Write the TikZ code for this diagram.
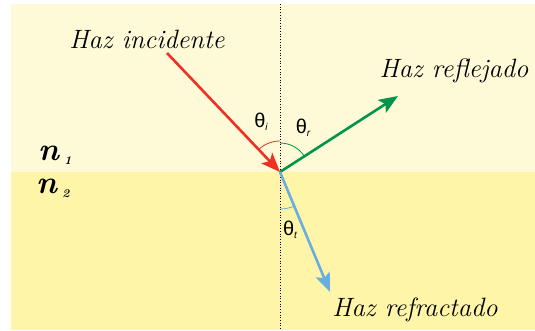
\documentclass[tikz,border=0pt]{standalone}
\usepackage{fontspec}
\newfontfamily\sansf{Liberation Sans}
\usetikzlibrary{arrows.meta}
\definecolor{bgtop}{HTML}{FEF9D6}
\definecolor{bgbot}{HTML}{FFF5A9}
\definecolor{rayred}{HTML}{EE3124}
\definecolor{raygreen}{HTML}{00954A}
\definecolor{rayblue}{HTML}{6AAEE0}
\newcommand{\lowsub}[2]{\raisebox{-0.15em}{\fontsize{#1}{#1}\selectfont\itshape #2}}
\begin{document}
\begin{tikzpicture}[x=1pt,y=1pt,
  ray/.style={line width=2.6pt},
  tip/.style={-{Stealth[length=19pt,width=15pt,inset=4pt]}},
  beamlabel/.style={font=\fontsize{26.5}{30}\selectfont\itshape, inner sep=0pt},
  anglabel/.style={font=\sansf\fontsize{20}{22}\selectfont, inner sep=0pt},
  medlabel/.style={font=\fontsize{32}{34}\selectfont\bfseries\itshape, inner sep=0pt},
  anglearc/.style={line width=0.8pt}]
\useasboundingbox (0,0) rectangle (535,-330);
\fill[white] (0,0) rectangle (535,-330);
\fill[bgtop] (11,-4) rectangle (535,-172);
\fill[bgbot] (11,-172) rectangle (535,-330);
\coordinate (O) at (280,-172);
\coordinate (ntop) at (280,-4);
\coordinate (nbot) at (280,-330);
\draw[dotted, line width=0.7pt] (ntop) -- (nbot);
\coordinate (inc) at (167,-53);
\coordinate (refl) at (398,-96);
\coordinate (refr) at (330,-292);
\draw[ray, rayred, tip] (inc) -- (O);
\draw[ray, raygreen, tip] (O) -- (refl);
\draw[ray, rayblue, tip] (O) -- (refr);
\draw[anglearc, rayred] ([shift={(133.5:31)}]O) arc[start angle=133.5, end angle=90, radius=31];
\draw[anglearc, raygreen] ([shift={(90:29)}]O) arc[start angle=90, end angle=32.8, radius=29];
\draw[anglearc, rayblue] ([shift={(-90:37)}]O) arc[start angle=-90, end angle=-67.4, radius=37];
\node[beamlabel] (linc) at (147,-39) {Haz incidente};
\node[beamlabel] (lrefl) at (454,-71) {Haz reflejado};
\node[beamlabel] (lrefr) at (415,-310) {Haz refractado};
\node[anglabel] (thi) at (261,-122) {θ\lowsub{10}{i}};
\node[anglabel] (thr) at (303,-128) {θ\lowsub{10}{r}};
\node[anglabel] (tht) at (290,-230) {θ\lowsub{10}{t}};
\node[medlabel, anchor=base west] (n1) at (38,-160) {n\,\lowsub{12}{1}};
\node[medlabel, anchor=base west] (n2) at (36,-193) {n\,\lowsub{12}{2}};
\end{tikzpicture}
\end{document}
